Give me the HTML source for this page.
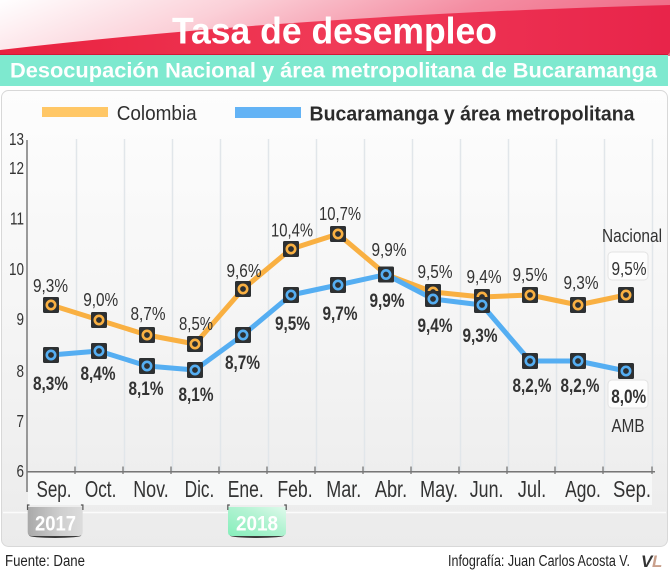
<!DOCTYPE html>
<html>
<head>
<meta charset="utf-8">
<style>
html,body{margin:0;padding:0;background:#fff;width:670px;height:571px;overflow:hidden;}
svg{display:block;}
text{font-family:"Liberation Sans",Arial,sans-serif;}
</style>
</head>
<body>
<svg width="670" height="571" viewBox="0 0 670 571" xmlns="http://www.w3.org/2000/svg">
<defs>
  <linearGradient id="hdrbg" x1="0" y1="0" x2="1" y2="0.2">
    <stop offset="0" stop-color="#ffffff"/>
    <stop offset="0.35" stop-color="#fbd0d8"/>
    <stop offset="0.7" stop-color="#f48da2"/>
    <stop offset="1" stop-color="#ef6a86"/>
  </linearGradient>
  <linearGradient id="red" x1="0" y1="0" x2="1" y2="0">
    <stop offset="0" stop-color="#e9213f"/>
    <stop offset="0.5" stop-color="#f03a57"/>
    <stop offset="1" stop-color="#e8244a"/>
  </linearGradient>
  <linearGradient id="panel" x1="0" y1="0" x2="0" y2="1">
    <stop offset="0" stop-color="#fdfdfd"/>
    <stop offset="0.5" stop-color="#f5f5f5"/>
    <stop offset="1" stop-color="#ebebeb"/>
  </linearGradient>
  <linearGradient id="tab17" x1="0" y1="0" x2="1" y2="0">
    <stop offset="0" stop-color="#a9a9a9"/>
    <stop offset="0.6" stop-color="#cfcfcf"/>
    <stop offset="1" stop-color="#dcdcdc"/>
  </linearGradient>
  <linearGradient id="tab18" x1="0" y1="1" x2="1" y2="0">
    <stop offset="0" stop-color="#86eebb"/>
    <stop offset="0.6" stop-color="#b4f3d3"/>
    <stop offset="1" stop-color="#e0faec"/>
  </linearGradient>
</defs>

<!-- Header -->
<rect x="0" y="0" width="670" height="56" fill="url(#hdrbg)"/>
<path d="M0,50 Q300,15 670,5 L670,52 Q669,55 664,55 L0,56 Z" fill="url(#red)"/>
<line x1="0" y1="54.5" x2="668" y2="54.5" stroke="#d21838" stroke-width="1"/>
<text x="334.5" y="43.5" text-anchor="middle" font-size="37" font-weight="bold" fill="#ffffff" textLength="325" lengthAdjust="spacingAndGlyphs">Tasa de desempleo</text>

<rect x="0" y="55" width="668" height="31" fill="#7ee9cf"/>
<text x="10" y="77.5" font-size="21.5" font-weight="bold" fill="#ffffff" textLength="647" lengthAdjust="spacingAndGlyphs">Desocupación Nacional y área metropolitana de Bucaramanga</text>

<!-- Panel -->
<rect x="1.5" y="90.5" width="666" height="456" rx="7" fill="url(#panel)" stroke="#d8d8d8" stroke-width="1"/>

<!-- Legend -->
<rect x="42" y="107" width="66" height="10" fill="#ffc766"/>
<text x="116.7" y="120" font-size="20" fill="#2f2f2f" textLength="80" lengthAdjust="spacingAndGlyphs">Colombia</text>
<rect x="235" y="107" width="66" height="11" fill="#63b3f5"/>
<text x="309.5" y="120.5" font-size="20" font-weight="bold" fill="#2b2b2b" textLength="325" lengthAdjust="spacingAndGlyphs">Bucaramanga y área metropolitana</text>

<!-- Vertical gridlines -->
<g stroke="#e1e6ea" stroke-width="1.5">
  <line x1="76.5" y1="139" x2="76.5" y2="471"/>
  <line x1="124.5" y1="139" x2="124.5" y2="471"/>
  <line x1="172.5" y1="139" x2="172.5" y2="471"/>
  <line x1="220.5" y1="139" x2="220.5" y2="471"/>
  <line x1="268.5" y1="139" x2="268.5" y2="471"/>
  <line x1="316.5" y1="139" x2="316.5" y2="471"/>
  <line x1="364.5" y1="139" x2="364.5" y2="471"/>
  <line x1="412.5" y1="139" x2="412.5" y2="471"/>
  <line x1="460.5" y1="139" x2="460.5" y2="471"/>
  <line x1="508.5" y1="139" x2="508.5" y2="471"/>
  <line x1="556.5" y1="139" x2="556.5" y2="471"/>
  <line x1="604.5" y1="139" x2="604.5" y2="471"/>
  <line x1="652.5" y1="139" x2="652.5" y2="471"/>
</g>

<!-- Month band -->
<rect x="28" y="473" width="624" height="32" fill="#f7f8f8"/>
<line x1="3" y1="512.5" x2="666" y2="512.5" stroke="#fbfbfb" stroke-width="1.5"/>

<!-- Axes -->
<line x1="27" y1="140" x2="27" y2="492" stroke="#7a7a7a" stroke-width="1.5"/>
<line x1="27" y1="471.7" x2="655" y2="471.7" stroke="#777" stroke-width="1.5"/>
<g stroke="#777" stroke-width="1.3">
  <line x1="75" y1="466.5" x2="75" y2="474"/>
  <line x1="123" y1="466.5" x2="123" y2="474"/>
  <line x1="171" y1="466.5" x2="171" y2="474"/>
  <line x1="219" y1="466.5" x2="219" y2="474"/>
  <line x1="267" y1="466.5" x2="267" y2="474"/>
  <line x1="315" y1="466.5" x2="315" y2="474"/>
  <line x1="363" y1="466.5" x2="363" y2="474"/>
  <line x1="411" y1="466.5" x2="411" y2="474"/>
  <line x1="459" y1="466.5" x2="459" y2="474"/>
  <line x1="507" y1="466.5" x2="507" y2="474"/>
  <line x1="555" y1="466.5" x2="555" y2="474"/>
  <line x1="603" y1="466.5" x2="603" y2="474"/>
  <line x1="652" y1="466.5" x2="652" y2="474"/>
</g>

<!-- Y labels -->
<g font-size="17.5" fill="#333" text-anchor="end">
  <text x="24" y="145" textLength="15" lengthAdjust="spacingAndGlyphs">13</text>
  <text x="24" y="174" textLength="15" lengthAdjust="spacingAndGlyphs">12</text>
  <text x="24" y="224.5" textLength="14" lengthAdjust="spacingAndGlyphs">11</text>
  <text x="24" y="275" textLength="15" lengthAdjust="spacingAndGlyphs">10</text>
  <text x="24" y="325" textLength="7.5" lengthAdjust="spacingAndGlyphs">9</text>
  <text x="24" y="377" textLength="7.5" lengthAdjust="spacingAndGlyphs">8</text>
  <text x="24" y="427" textLength="7.5" lengthAdjust="spacingAndGlyphs">7</text>
  <text x="24" y="477" textLength="7.5" lengthAdjust="spacingAndGlyphs">6</text>
</g>

<!-- Month labels -->
<g font-size="23.5" fill="#333" text-anchor="middle">
  <text x="54" y="497" textLength="35" lengthAdjust="spacingAndGlyphs">Sep.</text>
  <text x="100.6" y="497" textLength="31.5" lengthAdjust="spacingAndGlyphs">Oct.</text>
  <text x="151" y="497" textLength="35.5" lengthAdjust="spacingAndGlyphs">Nov.</text>
  <text x="199.5" y="497" textLength="29.7" lengthAdjust="spacingAndGlyphs">Dic.</text>
  <text x="245.7" y="497" textLength="36" lengthAdjust="spacingAndGlyphs">Ene.</text>
  <text x="295" y="497" textLength="35.3" lengthAdjust="spacingAndGlyphs">Feb.</text>
  <text x="343.8" y="497" textLength="35" lengthAdjust="spacingAndGlyphs">Mar.</text>
  <text x="391" y="497" textLength="32.3" lengthAdjust="spacingAndGlyphs">Abr.</text>
  <text x="439" y="497" textLength="38" lengthAdjust="spacingAndGlyphs">May.</text>
  <text x="486.6" y="497" textLength="33.6" lengthAdjust="spacingAndGlyphs">Jun.</text>
  <text x="532" y="497" textLength="28.4" lengthAdjust="spacingAndGlyphs">Jul.</text>
  <text x="583" y="497" textLength="35.8" lengthAdjust="spacingAndGlyphs">Ago.</text>
  <text x="632" y="497" textLength="38" lengthAdjust="spacingAndGlyphs">Sep.</text>
</g>

<!-- Year tabs -->
<ellipse cx="55.2" cy="535.5" rx="26" ry="2.5" fill="#3a3a3a"/>
<path d="M27.7,507 L82.7,507 L82.7,532 Q82.7,536 78.7,536 L31.7,536 Q27.7,536 27.7,532 Z" fill="url(#tab17)"/>
<path d="M27.5,510 L27.5,505 L29.5,505 M82.9,510 L82.9,505 L80.9,505" stroke="#555" stroke-width="1.2" fill="none"/>
<text x="55.5" y="530.5" text-anchor="middle" font-size="21" font-weight="bold" fill="#ffffff" textLength="41" lengthAdjust="spacingAndGlyphs">2017</text>

<ellipse cx="257" cy="535.5" rx="27" ry="2.5" fill="#3a3a3a"/>
<path d="M228,507 L286,507 L286,532 Q286,536 282,536 L232,536 Q228,536 228,532 Z" fill="url(#tab18)"/>
<path d="M227.8,510 L227.8,505 L229.8,505 M286.2,510 L286.2,505 L284.2,505" stroke="#555" stroke-width="1.2" fill="none"/>
<text x="257" y="530.5" text-anchor="middle" font-size="21" font-weight="bold" fill="#ffffff" textLength="42" lengthAdjust="spacingAndGlyphs">2018</text>

<!-- Colombia line -->
<polyline fill="none" stroke="#f9b042" stroke-width="5" stroke-linejoin="round"
  points="51,305 99,320 147,335 195,344 243,289 291,249 338,234 386,274.5 433,292 482,297 530,295 578,305 626,295"/>
<!-- Colombia markers -->
<g>
  <g transform="translate(51,305)"><rect x="-8" y="-8" width="16" height="16" rx="1.5" fill="#2d3032"/><circle r="4.2" fill="#2d3032" stroke="#f9b042" stroke-width="2.6"/></g>
  <g transform="translate(99,320)"><rect x="-8" y="-8" width="16" height="16" rx="1.5" fill="#2d3032"/><circle r="4.2" fill="#2d3032" stroke="#f9b042" stroke-width="2.6"/></g>
  <g transform="translate(147,335)"><rect x="-8" y="-8" width="16" height="16" rx="1.5" fill="#2d3032"/><circle r="4.2" fill="#2d3032" stroke="#f9b042" stroke-width="2.6"/></g>
  <g transform="translate(195,344)"><rect x="-8" y="-8" width="16" height="16" rx="1.5" fill="#2d3032"/><circle r="4.2" fill="#2d3032" stroke="#f9b042" stroke-width="2.6"/></g>
  <g transform="translate(243,289)"><rect x="-8" y="-8" width="16" height="16" rx="1.5" fill="#2d3032"/><circle r="4.2" fill="#2d3032" stroke="#f9b042" stroke-width="2.6"/></g>
  <g transform="translate(291,249)"><rect x="-8" y="-8" width="16" height="16" rx="1.5" fill="#2d3032"/><circle r="4.2" fill="#2d3032" stroke="#f9b042" stroke-width="2.6"/></g>
  <g transform="translate(338,234)"><rect x="-8" y="-8" width="16" height="16" rx="1.5" fill="#2d3032"/><circle r="4.2" fill="#2d3032" stroke="#f9b042" stroke-width="2.6"/></g>
  <g transform="translate(433,292)"><rect x="-8" y="-8" width="16" height="16" rx="1.5" fill="#2d3032"/><circle r="4.2" fill="#2d3032" stroke="#f9b042" stroke-width="2.6"/></g>
  <g transform="translate(482,297)"><rect x="-8" y="-8" width="16" height="16" rx="1.5" fill="#2d3032"/><circle r="4.2" fill="#2d3032" stroke="#f9b042" stroke-width="2.6"/></g>
  <g transform="translate(530,295)"><rect x="-8" y="-8" width="16" height="16" rx="1.5" fill="#2d3032"/><circle r="4.2" fill="#2d3032" stroke="#f9b042" stroke-width="2.6"/></g>
  <g transform="translate(578,305)"><rect x="-8" y="-8" width="16" height="16" rx="1.5" fill="#2d3032"/><circle r="4.2" fill="#2d3032" stroke="#f9b042" stroke-width="2.6"/></g>
  <g transform="translate(626,295)"><rect x="-8" y="-8" width="16" height="16" rx="1.5" fill="#2d3032"/><circle r="4.2" fill="#2d3032" stroke="#f9b042" stroke-width="2.6"/></g>
</g>

<!-- AMB line -->
<polyline fill="none" stroke="#55aef2" stroke-width="5" stroke-linejoin="round"
  points="51,355 99,351 147,366 195,370 243,335 291,295 338,285 386,274.5 433,299 482,305 530,361 578,361 626,371"/>
<g>
  <g transform="translate(51,355)"><rect x="-8" y="-8" width="16" height="16" rx="1.5" fill="#2d3032"/><circle r="4.2" fill="#2d3032" stroke="#55aef2" stroke-width="2.6"/></g>
  <g transform="translate(99,351)"><rect x="-8" y="-8" width="16" height="16" rx="1.5" fill="#2d3032"/><circle r="4.2" fill="#2d3032" stroke="#55aef2" stroke-width="2.6"/></g>
  <g transform="translate(147,366)"><rect x="-8" y="-8" width="16" height="16" rx="1.5" fill="#2d3032"/><circle r="4.2" fill="#2d3032" stroke="#55aef2" stroke-width="2.6"/></g>
  <g transform="translate(195,370)"><rect x="-8" y="-8" width="16" height="16" rx="1.5" fill="#2d3032"/><circle r="4.2" fill="#2d3032" stroke="#55aef2" stroke-width="2.6"/></g>
  <g transform="translate(243,335)"><rect x="-8" y="-8" width="16" height="16" rx="1.5" fill="#2d3032"/><circle r="4.2" fill="#2d3032" stroke="#55aef2" stroke-width="2.6"/></g>
  <g transform="translate(291,295)"><rect x="-8" y="-8" width="16" height="16" rx="1.5" fill="#2d3032"/><circle r="4.2" fill="#2d3032" stroke="#55aef2" stroke-width="2.6"/></g>
  <g transform="translate(338,285)"><rect x="-8" y="-8" width="16" height="16" rx="1.5" fill="#2d3032"/><circle r="4.2" fill="#2d3032" stroke="#55aef2" stroke-width="2.6"/></g>
  <g transform="translate(386,274.5)"><rect x="-8" y="-8" width="16" height="16" rx="1.5" fill="#2d3032"/><circle r="4.2" fill="#2d3032" stroke="#55aef2" stroke-width="2.6"/></g>
  <g transform="translate(433,299)"><rect x="-8" y="-8" width="16" height="16" rx="1.5" fill="#2d3032"/><circle r="4.2" fill="#2d3032" stroke="#55aef2" stroke-width="2.6"/></g>
  <g transform="translate(482,305)"><rect x="-8" y="-8" width="16" height="16" rx="1.5" fill="#2d3032"/><circle r="4.2" fill="#2d3032" stroke="#55aef2" stroke-width="2.6"/></g>
  <g transform="translate(530,361)"><rect x="-8" y="-8" width="16" height="16" rx="1.5" fill="#2d3032"/><circle r="4.2" fill="#2d3032" stroke="#55aef2" stroke-width="2.6"/></g>
  <g transform="translate(578,361)"><rect x="-8" y="-8" width="16" height="16" rx="1.5" fill="#2d3032"/><circle r="4.2" fill="#2d3032" stroke="#55aef2" stroke-width="2.6"/></g>
  <g transform="translate(626,371)"><rect x="-8" y="-8" width="16" height="16" rx="1.5" fill="#2d3032"/><circle r="4.2" fill="#2d3032" stroke="#55aef2" stroke-width="2.6"/></g>
</g>

<!-- Label boxes for last month -->
<rect x="608" y="252" width="40" height="28" rx="4" fill="#fdfdfd" stroke="#e3e3e3" stroke-width="1"/>
<rect x="608" y="380" width="40" height="28" rx="4" fill="#fdfdfd" stroke="#e3e3e3" stroke-width="1"/>

<!-- Colombia labels -->
<g font-size="18.5" fill="#333" text-anchor="middle">
  <text x="50.5" y="292" textLength="35" lengthAdjust="spacingAndGlyphs">9,3%</text>
  <text x="100.7" y="306" textLength="35" lengthAdjust="spacingAndGlyphs">9,0%</text>
  <text x="148" y="320" textLength="35" lengthAdjust="spacingAndGlyphs">8,7%</text>
  <text x="196" y="330" textLength="34" lengthAdjust="spacingAndGlyphs">8,5%</text>
  <text x="244" y="277" textLength="35" lengthAdjust="spacingAndGlyphs">9,6%</text>
  <text x="292" y="236.7" textLength="42" lengthAdjust="spacingAndGlyphs">10,4%</text>
  <text x="340" y="220" textLength="42" lengthAdjust="spacingAndGlyphs">10,7%</text>
  <text x="389" y="256" textLength="35" lengthAdjust="spacingAndGlyphs">9,9%</text>
  <text x="435" y="278" textLength="35" lengthAdjust="spacingAndGlyphs">9,5%</text>
  <text x="484" y="283" textLength="35" lengthAdjust="spacingAndGlyphs">9,4%</text>
  <text x="530" y="281" textLength="35" lengthAdjust="spacingAndGlyphs">9,5%</text>
  <text x="581" y="289" textLength="35" lengthAdjust="spacingAndGlyphs">9,3%</text>
  <text x="629" y="275" textLength="35" lengthAdjust="spacingAndGlyphs">9,5%</text>
  <text x="632" y="242" textLength="60" lengthAdjust="spacingAndGlyphs">Nacional</text>
</g>

<!-- AMB labels -->
<g font-size="19.5" font-weight="bold" fill="#333" text-anchor="middle">
  <text x="50.5" y="390" textLength="35" lengthAdjust="spacingAndGlyphs">8,3%</text>
  <text x="98" y="380" textLength="35" lengthAdjust="spacingAndGlyphs">8,4%</text>
  <text x="146" y="395" textLength="35" lengthAdjust="spacingAndGlyphs">8,1%</text>
  <text x="196" y="401" textLength="35" lengthAdjust="spacingAndGlyphs">8,1%</text>
  <text x="242.5" y="369" textLength="35" lengthAdjust="spacingAndGlyphs">8,7%</text>
  <text x="292.5" y="330" textLength="35" lengthAdjust="spacingAndGlyphs">9,5%</text>
  <text x="340" y="320" textLength="35" lengthAdjust="spacingAndGlyphs">9,7%</text>
  <text x="387" y="307" textLength="35" lengthAdjust="spacingAndGlyphs">9,9%</text>
  <text x="435" y="332" textLength="35" lengthAdjust="spacingAndGlyphs">9,4%</text>
  <text x="480" y="342" textLength="35" lengthAdjust="spacingAndGlyphs">9,3%</text>
  <text x="532" y="392" textLength="39" lengthAdjust="spacingAndGlyphs">8,2,%</text>
  <text x="580" y="392" textLength="39" lengthAdjust="spacingAndGlyphs">8,2,%</text>
  <text x="628.7" y="403" textLength="35" lengthAdjust="spacingAndGlyphs">8,0%</text>
</g>
<text x="628" y="432" text-anchor="middle" font-size="18.5" fill="#333" textLength="33" lengthAdjust="spacingAndGlyphs">AMB</text>

<!-- Footer -->
<text x="5" y="566" font-size="15.5" fill="#222" textLength="80" lengthAdjust="spacingAndGlyphs">Fuente: Dane</text>
<text x="448" y="566" font-size="15.5" fill="#222" textLength="182" lengthAdjust="spacingAndGlyphs">Infografía: Juan Carlos Acosta V.</text>
<text x="641" y="567" font-size="17" font-weight="bold" font-style="italic" fill="#333">V</text>
<text x="652" y="567" font-size="17" font-weight="bold" font-style="italic" fill="#c9a08c">L</text>
</svg>
</body>
</html>
